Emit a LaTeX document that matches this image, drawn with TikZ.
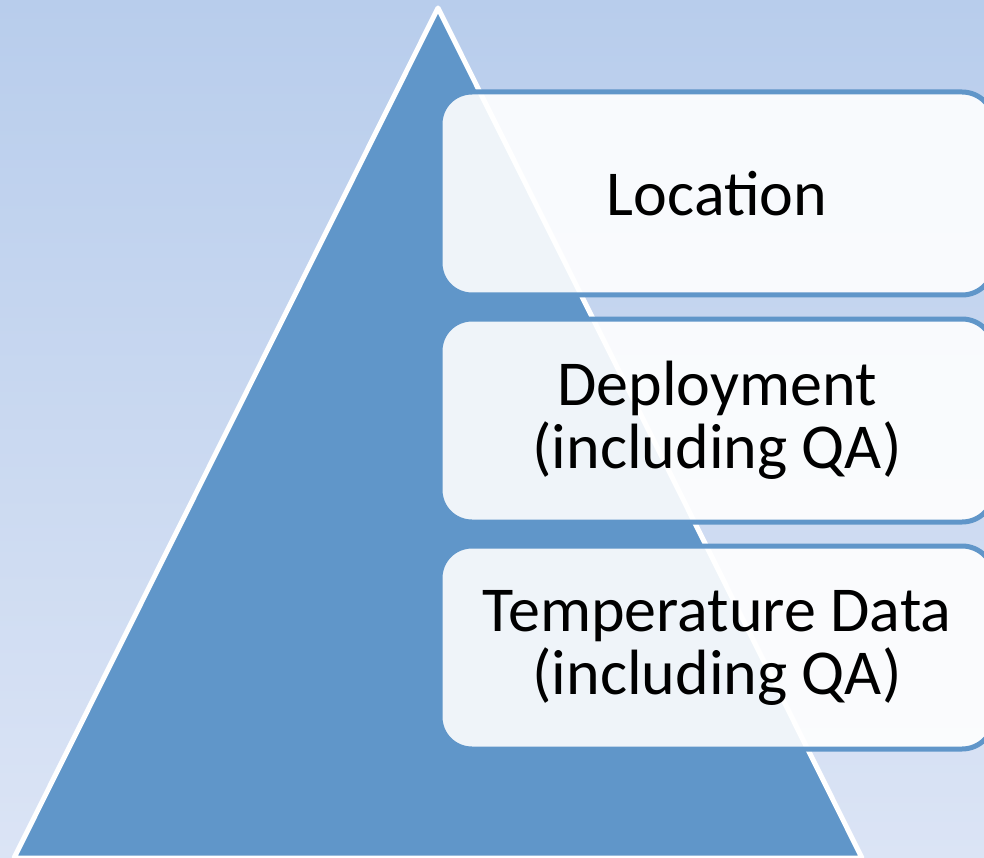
\documentclass[tikz,border=0pt]{standalone}
\usepackage{fontspec}
\setmainfont{Carlito}
\usetikzlibrary{positioning}
\definecolor{skytop}{RGB}{184,205,236}
\definecolor{skybot}{RGB}{219,228,245}
\definecolor{pyrblue}{RGB}{96,150,201}
\tikzset{
  x=1pt, y=-1pt, % work in pixel units, y going down
  node distance=19pt, % gap between the layer boxes
  layer/.style={draw=pyrblue, line width=5pt, rounded corners=32pt,
    fill=white, fill opacity=0.9, text opacity=1,
    minimum width=554pt, minimum height=203pt, align=center,
    font=\fontsize{64}{63}\selectfont}, % each box on the pyramid
}
\begin{document}
\begin{tikzpicture}
    \useasboundingbox (0,0) rectangle (984,858);
    \clip (0,0) rectangle (984,858);
    % backdrop
    \shade[top color=skytop, bottom color=skybot] (0,0) rectangle (984,858);
    % pyramid
    \draw[white, line width=5pt, line join=round, fill=pyrblue]
      (438,8) -- (862,858) -- (14,858) -- cycle;

    \node[layer] (loc) at (717,193.5) {Location};
    \node[layer, below=of loc] (depl) {Deployment\\(including QA)};
    \node[layer, below=of depl] (temp) {Temperature Data\\(including QA)};
  \end{tikzpicture}
\end{document}
